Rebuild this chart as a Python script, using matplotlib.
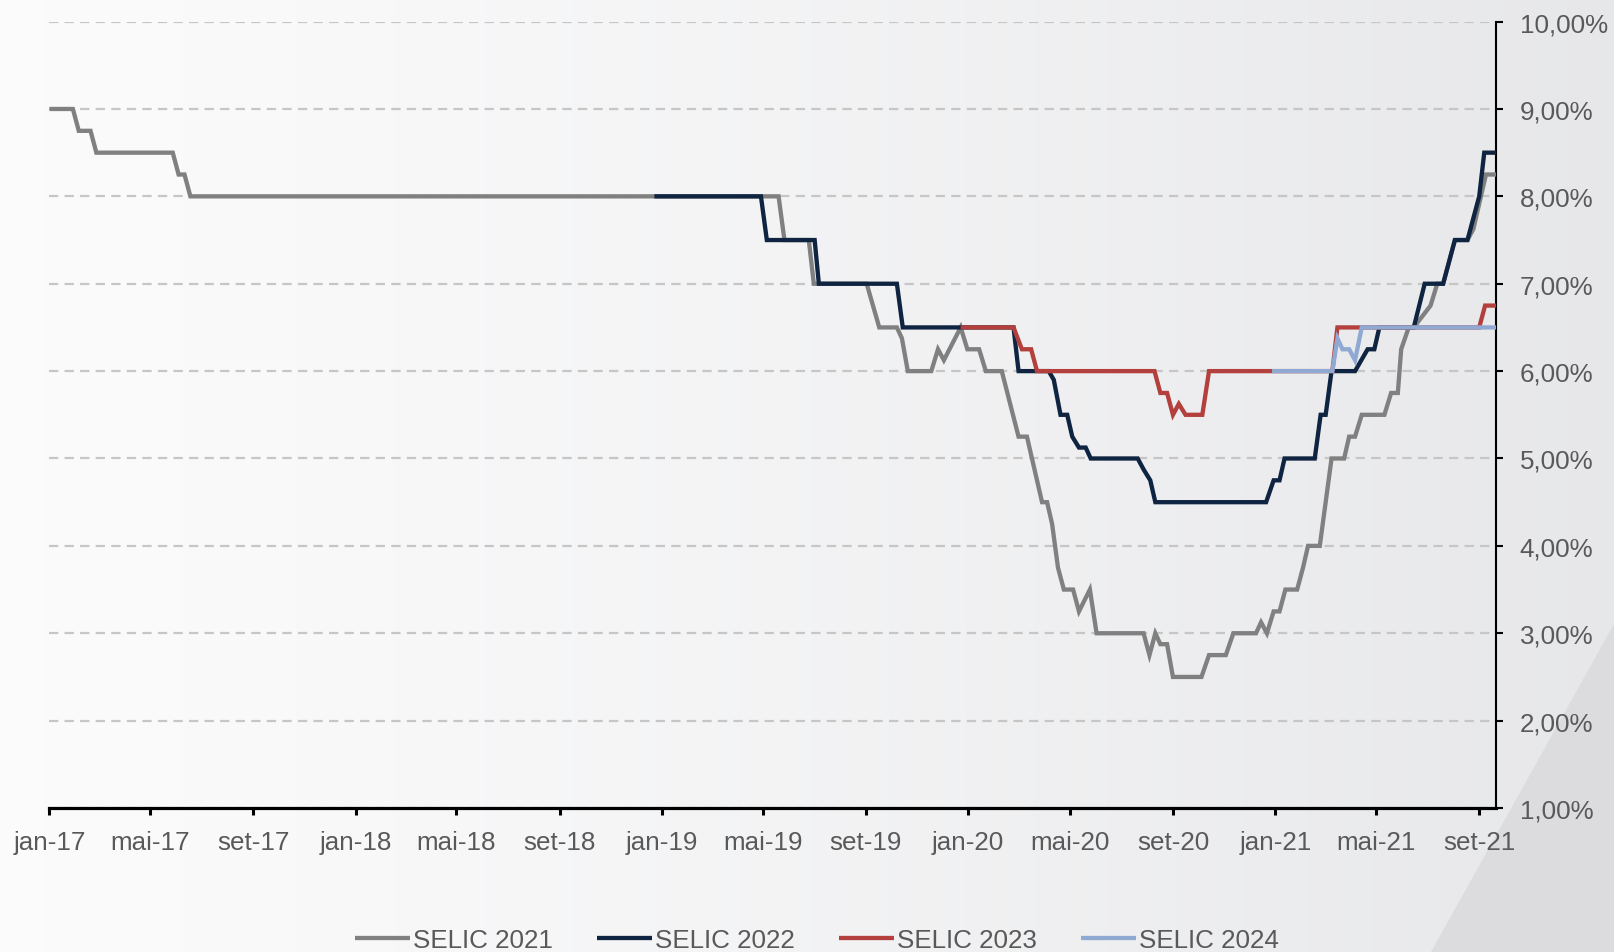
import numpy as np
import matplotlib
matplotlib.use("Agg")
import matplotlib.pyplot as plt
import matplotlib.dates as mdates
from matplotlib.patches import Polygon
from matplotlib.ticker import FixedLocator, FuncFormatter

plt.rcParams['font.family'] = ['Liberation Sans', 'DejaVu Sans']

# ---------------- data (Focus medians, % a.a.) ----------------
selic2021_dates = ["2017-01-01", "2017-01-29", "2017-02-05", "2017-02-19", "2017-02-26",
                   "2017-05-28", "2017-06-04", "2017-06-11", "2017-06-18", "2019-05-20",
                   "2019-05-27", "2019-06-25", "2019-07-01", "2019-09-02", "2019-09-17",
                   "2019-10-08", "2019-10-14", "2019-10-21", "2019-11-18", "2019-11-26",
                   "2019-12-03", "2019-12-23", "2019-12-31", "2020-01-14", "2020-01-22",
                   "2020-02-10", "2020-03-01", "2020-03-11", "2020-03-29", "2020-04-04",
                   "2020-04-10", "2020-04-17", "2020-04-24", "2020-05-05", "2020-05-12",
                   "2020-05-25", "2020-06-02", "2020-07-28", "2020-08-04", "2020-08-11",
                   "2020-08-17", "2020-08-25", "2020-09-01", "2020-10-05", "2020-10-14",
                   "2020-11-03", "2020-11-12", "2020-12-09", "2020-12-15", "2020-12-22",
                   "2020-12-30", "2021-01-06", "2021-01-13", "2021-01-27", "2021-02-03",
                   "2021-02-09", "2021-02-23", "2021-03-09", "2021-03-24", "2021-03-30",
                   "2021-04-06", "2021-04-14", "2021-05-11", "2021-05-19", "2021-05-27",
                   "2021-05-31", "2021-06-09", "2021-06-15", "2021-07-05", "2021-07-13",
                   "2021-07-20", "2021-08-03", "2021-08-18", "2021-08-25", "2021-09-03",
                   "2021-09-09", "2021-09-21"]
selic2021_vals = [9.00, 9.00, 8.75, 8.75, 8.50,
                  8.50, 8.25, 8.25, 8.00, 8.00,
                  7.50, 7.50, 7.00, 7.00, 6.50,
                  6.50, 6.375, 6.00, 6.00, 6.25,
                  6.125, 6.50, 6.25, 6.25, 6.00,
                  6.00, 5.25, 5.25, 4.50, 4.50,
                  4.25, 3.75, 3.50, 3.50, 3.25,
                  3.50, 3.00, 3.00, 2.75, 3.00,
                  2.875, 2.875, 2.50, 2.50, 2.75,
                  2.75, 3.00, 3.00, 3.125, 3.00,
                  3.25, 3.25, 3.50, 3.50, 3.75,
                  4.00, 4.00, 5.00, 5.00, 5.25,
                  5.25, 5.50, 5.50, 5.75, 5.75,
                  6.25, 6.50, 6.50, 6.75, 7.00,
                  7.00, 7.50, 7.50, 7.625, 8.00,
                  8.25, 8.25]

selic2022_dates = ["2018-12-23", "2019-04-29", "2019-05-06", "2019-07-02", "2019-07-07",
                   "2019-10-08", "2019-10-15", "2020-02-24", "2020-03-01", "2020-04-06",
                   "2020-04-12", "2020-04-20", "2020-04-28", "2020-05-04", "2020-05-12",
                   "2020-05-20", "2020-05-26", "2020-07-21", "2020-07-28", "2020-08-05",
                   "2020-08-11", "2020-12-21", "2020-12-30", "2021-01-06", "2021-01-12",
                   "2021-02-17", "2021-02-24", "2021-03-02", "2021-03-09", "2021-04-06",
                   "2021-04-21", "2021-04-29", "2021-05-05", "2021-06-15", "2021-06-28",
                   "2021-07-20", "2021-08-03", "2021-08-18", "2021-09-01", "2021-09-07",
                   "2021-09-21"]
selic2022_vals = [8.00, 8.00, 7.50, 7.50, 7.00,
                  7.00, 6.50, 6.50, 6.00, 6.00,
                  5.90, 5.50, 5.50, 5.25, 5.125,
                  5.125, 5.00, 5.00, 4.875, 4.75,
                  4.50, 4.50, 4.75, 4.75, 5.00,
                  5.00, 5.50, 5.50, 6.00, 6.00,
                  6.25, 6.25, 6.50, 6.50, 7.00,
                  7.00, 7.50, 7.50, 8.00, 8.50,
                  8.50]

selic2023_dates = ["2019-12-23", "2020-02-24", "2020-03-05", "2020-03-16", "2020-03-23",
                   "2020-08-10", "2020-08-17", "2020-08-25", "2020-09-01", "2020-09-08",
                   "2020-09-16", "2020-10-06", "2020-10-14", "2021-03-10", "2021-03-16",
                   "2021-09-01", "2021-09-08", "2021-09-21"]
selic2023_vals = [6.50, 6.50, 6.25, 6.25, 6.00,
                  6.00, 5.75, 5.75, 5.50, 5.625,
                  5.50, 5.50, 6.00, 6.00, 6.50,
                  6.50, 6.75, 6.75]

selic2024_dates = ["2020-12-28", "2021-03-10", "2021-03-16", "2021-03-22", "2021-03-30",
                   "2021-04-06", "2021-04-14", "2021-09-21"]
selic2024_vals = [6.00, 6.00, 6.375, 6.25, 6.25,
                  6.125, 6.50, 6.50]

series_names = ["SELIC 2021", "SELIC 2022", "SELIC 2023", "SELIC 2024"]
series_colors = ["#808080", "#0e2441", "#b3403d", "#8fa9d3"]

xtick_dates = ["2017-01-01", "2017-05-01", "2017-09-01", "2018-01-01", "2018-05-01",
               "2018-09-01", "2019-01-01", "2019-05-01", "2019-09-01", "2020-01-01",
               "2020-05-01", "2020-09-01", "2021-01-01", "2021-05-01", "2021-09-01"]
xtick_labels = ["jan-17", "mai-17", "set-17", "jan-18", "mai-18", "set-18", "jan-19",
                "mai-19", "set-19", "jan-20", "mai-20", "set-20", "jan-21", "mai-21", "set-21"]
ytick_vals = [1, 2, 3, 4, 5, 6, 7, 8, 9, 10]

# ---------------- figure ----------------
W, H = 1614, 953
fig = plt.figure(figsize=(W / 100, H / 100), dpi=100)

# background gradient
bg = fig.add_axes([0, 0, 1, 1], zorder=-10)
bg.set_xlim(0, 1)
bg.set_ylim(0, 1)
bg.axis('off')
gx = np.linspace(0, 1, 512)
left_c = np.array([0.985, 0.985, 0.988])
right_c = np.array([0.905, 0.907, 0.915])
grad = left_c[None, :] * (1 - gx[:, None] ** 1.3) + right_c[None, :] * (gx[:, None] ** 1.3)
bg.imshow(grad[None, :, :], extent=[0, 1, 0, 1], aspect='auto', zorder=0)
bg.add_patch(Polygon([(1431 / W, 0), (1.0, (H - 625) / H), (1.0, 0)], closed=True,
                     facecolor="#dcdcde", edgecolor="none", zorder=1))

ax = fig.add_axes([49.4 / W, (H - 809) / H, (1496 - 49.4) / W, (809 - 22.6) / H])
ax.patch.set_alpha(0)

lw = 3.1
all_dates = [selic2021_dates, selic2022_dates, selic2023_dates, selic2024_dates]
all_vals = [selic2021_vals, selic2022_vals, selic2023_vals, selic2024_vals]
handles = []
for i, (d, v) in enumerate(zip(all_dates, all_vals)):
    x = np.array(d, dtype="datetime64[D]")
    h, = ax.plot(x, v, color=series_colors[i], lw=lw, solid_joinstyle='miter',
                 solid_capstyle='butt', zorder=3 + i, label=series_names[i])
    handles.append(h)

ax.set_xlim(np.datetime64("2017-01-01"), np.datetime64("2021-09-21"))
ax.set_ylim(1, 10)

ax.xaxis.set_major_locator(FixedLocator(mdates.date2num(np.array(xtick_dates, dtype="datetime64[D]"))))
ax.set_xticklabels(xtick_labels)
ax.yaxis.tick_right()
ax.set_yticks(ytick_vals)
ax.yaxis.set_major_formatter(FuncFormatter(lambda y, p: f"{y:.2f}%".replace(".", ",")))

ax.grid(axis='y', color="#c6c6c6", linestyle=(0, (4.2, 2.8)), linewidth=1.6, zorder=1)
ax.grid(axis='x', visible=False)

for s in ["left", "top"]:
    ax.spines[s].set_visible(False)
ax.spines["bottom"].set_linewidth(2.3)
ax.spines["bottom"].set_color("black")
ax.spines["right"].set_linewidth(1.5)
ax.spines["right"].set_color("black")
ax.spines["bottom"].set_zorder(10)

tick_color = "#595959"
fs = 18.7
ax.tick_params(axis='x', direction='out', length=5, width=2.2, color='black',
               labelsize=fs, labelcolor=tick_color, pad=10.5)
ax.tick_params(axis='y', direction='out', length=5, width=1.5, color='black',
               labelsize=fs, labelcolor=tick_color, pad=12, right=True, left=False)

leg = fig.legend(handles=handles, loc='center', bbox_to_anchor=(817 / W, 12 / H),
                 ncol=4, frameon=False, handlelength=2.1, handletextpad=0.12,
                 columnspacing=1.72, fontsize=fs, borderpad=0, borderaxespad=0)
for t in leg.get_texts():
    t.set_color(tick_color)

fig.savefig("out.png", dpi=100)
